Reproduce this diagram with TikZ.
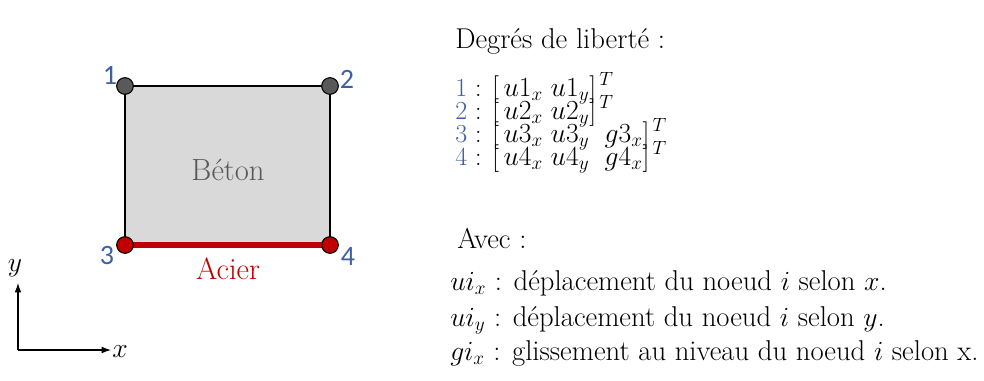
\documentclass[tikz,border=0pt]{standalone}
\usepackage{amsmath}
\usepackage{fontspec}
\newfontfamily\numfont{Carlito}
\usetikzlibrary{arrows.meta,positioning}
\definecolor{myblue}{RGB}{60,95,165}
\definecolor{myred}{RGB}{192,0,0}
\definecolor{mygray}{RGB}{89,89,89}
\definecolor{myfill}{RGB}{217,217,217}

\begin{document}
\begin{tikzpicture}[
    x=0.75pt, y=-0.75pt,
    every node/.style={font=\fontsize{21.5}{24}\selectfont, inner sep=0pt},
    dofnode/.style={circle, draw=black, line width=0.8pt, fill=mygray,
        minimum size=12.5pt},
    steelnode/.style={dofnode, fill=myred},
    numlabel/.style={text=myblue, font=\numfont\fontsize{21}{23}\selectfont},
    matlabel/.style={font=\fontsize{23}{26}\selectfont},
    axlabel/.style={font=\fontsize{22}{25}\selectfont},
    txt/.style={anchor=base west},
    dofline/.style={txt, font=\fontsize{19.5}{21}\selectfont},
    axis/.style={-{Latex[length=7pt,width=5pt]}, line width=0.8pt}
]
\useasboundingbox (0,0) rectangle (984,380);

% element
\coordinate (c1) at (125,86);
\coordinate (c2) at (330,86);
\coordinate (c3) at (125,245);
\coordinate (c4) at (330,245);
\draw[fill=myfill, line width=0.8pt] (c1) rectangle (c4);
\draw[myred, line width=4.5pt] (c3) -- (c4);

\node[dofnode] (n1) at (c1) {};
\node[dofnode] (n2) at (c2) {};
\node[steelnode] (n3) at (c3) {};
\node[steelnode] (n4) at (c4) {};

\node[numlabel] (l1) at (110,75) {1};
\node[numlabel] (l2) at (347,79) {2};
\node[numlabel] (l3) at (107,255) {3};
\node[numlabel] (l4) at (348,256) {4};

\node[matlabel, text=mygray] (beton) at (228,170) {Béton};
\node[matlabel, text=myred] (acier) at (228,269) {Acier};

% repere
\coordinate (o) at (18,350);
\node[axlabel] (ylab) at (15,268) {$y$};
\node[axlabel] (xlab) at (120,352) {$x$};
\draw[axis] (o) -- (18,283) coordinate (ytip);
\draw[axis] (o) -- (111,350) coordinate (xtip);

% degres de liberte
\node[txt] (titre) at (455,48) {Degrés de liberté :};
\node[dofline] (d1) at (455,96)
    {\textcolor{myblue}{1} : $[\,u1_x\;u1_y]^{\,T}$};
\node[dofline] (d2) at (455,119)
    {\textcolor{myblue}{2} : $[\,u2_x\;u2_y]^{\,T}$};
\node[dofline] (d3) at (455,142)
    {\textcolor{myblue}{3} : $[\,u3_x\;u3_y\;\;g3_x]^{\,T}$};
\node[dofline] (d4) at (455,165)
    {\textcolor{myblue}{4} : $[\,u4_x\;u4_y\;\;g4_x]^{\,T}$};

\node[txt] (avec) at (457,248) {Avec :};
\node[txt] (a1) at (450,290) {$ui_x$ : déplacement du noeud $i$ selon $x$.};
\node[txt] (a2) at (450,326) {$ui_y$ : déplacement du noeud $i$ selon $y$.};
\node[txt] (a3) at (450,360)
    {$gi_x$ : glissement au niveau du noeud $i$ selon x.};
\end{tikzpicture}
\end{document}
